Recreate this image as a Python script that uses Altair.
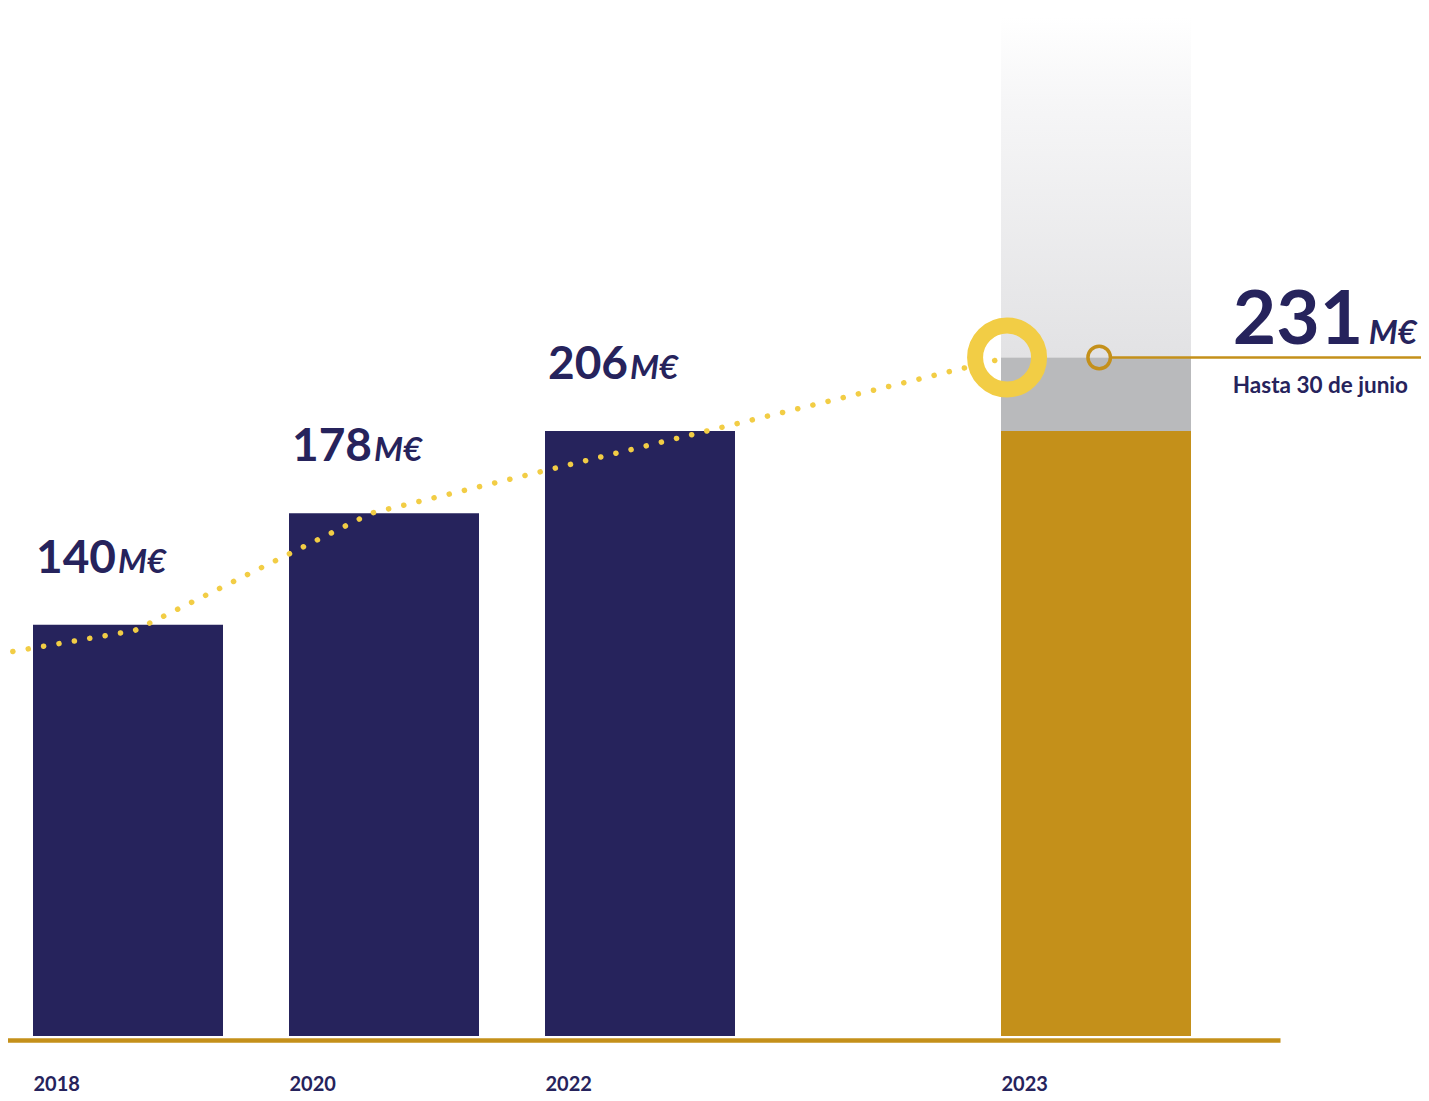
import altair as alt
import pandas as pd

# ---- data ----
years = [2018, 2020, 2022]
values = [140, 178, 206]
labels = ["140", "178", "206"]
year_2023 = 2023
base_2023 = 206        # gold part (previous year level)
total_2023 = 231       # up to 30 June
fade_top_2023 = 347    # top of the faded projection column
total_label = "231"
unit = "M€"
note = "Hasta 30 de junio"
axis_years = [2018, 2020, 2022, 2023]

trend_years = [2016.98, 2018.05, 2019.9, 2022.805]
trend_values = [130, 138, 178, 231]

NAVY = "#26235c"
GOLD = "#c4901a"
YELLOW = "#f2cd45"
GRAY = "#b9babc"
FONT = "Lato"

bars = pd.DataFrame({"year": years, "value": values, "label": labels})
b23 = pd.DataFrame({"year": [year_2023], "base": [base_2023], "total": [total_2023],
                    "top": [fade_top_2023], "zero": [0]})
trend = pd.DataFrame({"year": trend_years, "value": trend_values})
ring = pd.DataFrame({"year": [trend_years[-1]], "value": [total_2023]})
marker = pd.DataFrame({"year": [2023.007], "value": [total_2023]})
leader = pd.DataFrame({"x1": [2023.035], "x2": [2023.75], "value": [total_2023]})
annot = pd.DataFrame({"year": [2023.30], "value": [total_2023], "num": [total_label],
                      "unit": [unit], "note": [note]})

xscale = alt.Scale(domain=[2017, 2022, 2023, 2023.4035], range=[-8, 632, 1088, 1272],
                   padding=0, zero=False, nice=False)
yscale = alt.Scale(domain=[0, 350], nice=False, zero=True, padding=0)

xenc = alt.X("year:Q", scale=xscale,
             axis=alt.Axis(values=axis_years, format="d", title=None, grid=False, ticks=False,
                           domainColor=GOLD, domainWidth=4.5, offset=4,
                           labelAlign="left", labelOffset=-95, labelBaseline="top",
                           labelPadding=34, labelFont=FONT, labelFontSize=20,
                           labelFontWeight="bold", labelColor=NAVY, labelFlush=False))
yenc = alt.Y("value:Q", scale=yscale, axis=None)

fade = alt.Chart(b23).mark_bar(
    size=190,
    color=alt.Gradient(gradient="linear",
                       stops=[alt.GradientStop(color="#e2e2e4", offset=0),
                              alt.GradientStop(color="#f6f6f7", offset=0.75),
                              alt.GradientStop(color="#ffffff", offset=1)],
                       x1=0, x2=0, y1=1, y2=0)
).encode(x=xenc, y=alt.Y("total:Q", scale=yscale, axis=None), y2="top:Q")

gray = alt.Chart(b23).mark_bar(size=190, color=GRAY).encode(
    x="year:Q", y=alt.Y("base:Q", scale=yscale, axis=None), y2="total:Q")

gold = alt.Chart(b23).mark_bar(size=190, color=GOLD).encode(
    x="year:Q", y=alt.Y("zero:Q", scale=yscale, axis=None), y2="base:Q")

navy = alt.Chart(bars).mark_bar(size=190, color=NAVY).encode(x="year:Q", y=yenc)

dots = alt.Chart(trend).mark_line(
    color=YELLOW, strokeWidth=5.5, strokeDash=[0.1, 15.5], strokeCap="round"
).encode(x="year:Q", y=yenc, order="year:Q")

ring_m = alt.Chart(ring).mark_point(
    shape="circle", filled=False, size=4096, strokeWidth=16, color=YELLOW, opacity=1
).encode(x="year:Q", y=yenc)

marker_m = alt.Chart(marker).mark_point(
    shape="circle", filled=False, size=506, strokeWidth=3.5, color=GOLD, opacity=1
).encode(x="year:Q", y=yenc)

leader_m = alt.Chart(leader).mark_rule(color=GOLD, strokeWidth=2.5).encode(
    x="x1:Q", x2="x2:Q", y=yenc)

num_txt = alt.Chart(bars).mark_text(
    align="left", baseline="alphabetic", dx=-92, dy=-52,
    font=FONT, fontSize=46, fontWeight="bold", color=NAVY
).encode(x="year:Q", y=yenc, text="label:N")

unit_txt = alt.Chart(bars).mark_text(
    align="left", baseline="alphabetic", dx=-10, dy=-52,
    font=FONT, fontSize=33, fontWeight="bold", fontStyle="italic", color=NAVY
).encode(x="year:Q", y=yenc, text=alt.value(unit))

big_num = alt.Chart(annot).mark_text(
    align="left", baseline="alphabetic", dy=-14,
    font=FONT, fontSize=75, fontWeight="bold", color=NAVY
).encode(x="year:Q", y=yenc, text="num:N")

big_unit = alt.Chart(annot).mark_text(
    align="left", baseline="alphabetic", dx=136, dy=-14,
    font=FONT, fontSize=33, fontWeight="bold", fontStyle="italic", color=NAVY
).encode(x="year:Q", y=yenc, text="unit:N")

note_txt = alt.Chart(annot).mark_text(
    align="left", baseline="alphabetic", dy=35,
    font=FONT, fontSize=22.5, fontWeight="bold", color=NAVY
).encode(x="year:Q", y=yenc, text="note:N")

chart = alt.layer(
    fade, gray, gold, navy, dots, ring_m, marker_m, leader_m,
    num_txt, unit_txt, big_num, big_unit, note_txt
).properties(
    width=1413, height=1028,
    autosize=alt.AutoSizeParams(type="none"),
    padding={"left": 0, "top": 0, "right": 0, "bottom": 57},
    background="white"
).configure_view(stroke=None)

chart.save("out.html", embed_options={"renderer": "svg", "actions": False})
